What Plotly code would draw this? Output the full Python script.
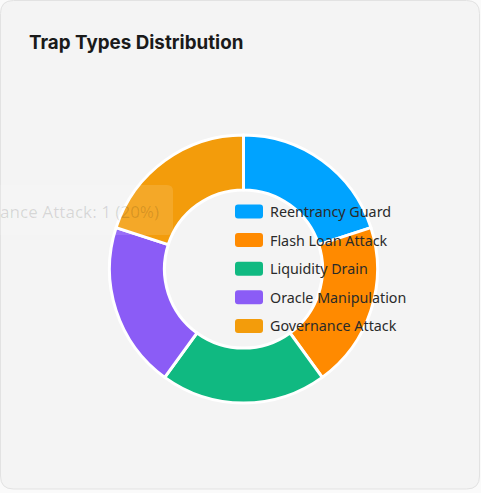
import plotly.graph_objects as go

# ---- data ----
labels = ["Reentrancy Guard", "Flash Loan Attack", "Liquidity Drain",
          "Oracle Manipulation", "Governance Attack"]
values = [1, 1, 1, 1, 1]
colors = ["#00A3FF", "#FF8A00", "#10B981", "#8B5CF6", "#F39C0B"]
title_text = "Trap Types Distribution"
tooltip_index = 4

W, H = 481, 493
CARD_BG = "#F4F4F4"
PAGE_BG = "#FAFAFA"


def px(x):
    return x / W


def py(y):
    return 1 - y / H


def rounded_rect(x0, y0, x1, y1, r):
    # pixel coords (top-left origin) -> paper path
    return (f"M{px(x0 + r)},{py(y0)} L{px(x1 - r)},{py(y0)} "
            f"Q{px(x1)},{py(y0)} {px(x1)},{py(y0 + r)} "
            f"L{px(x1)},{py(y1 - r)} Q{px(x1)},{py(y1)} {px(x1 - r)},{py(y1)} "
            f"L{px(x0 + r)},{py(y1)} Q{px(x0)},{py(y1)} {px(x0)},{py(y1 - r)} "
            f"L{px(x0)},{py(y0 + r)} Q{px(x0)},{py(y0)} {px(x0 + r)},{py(y0)} Z")


cx, cy, R = 243.5, 269, 134

fig = go.Figure()
fig.add_trace(go.Pie(
    labels=labels,
    values=values,
    hole=0.59,
    sort=False,
    direction="clockwise",
    rotation=0,
    textinfo="none",
    hoverinfo="label+value+percent",
    marker=dict(colors=colors, line=dict(color="#FFFFFF", width=3)),
    domain=dict(x=[px(cx - R), px(cx + R)], y=[py(cy + R), py(cy - R)]),
    showlegend=False,
))

shapes = [dict(
    type="path", xref="paper", yref="paper", layer="below",
    path=rounded_rect(0.5, 0.5, 479.5, 489, 13),
    fillcolor=CARD_BG, line=dict(color="#E2E2E2", width=1),
)]
annotations = [dict(
    text=f"<b>{title_text}</b>", xref="paper", yref="paper",
    x=px(26.5), y=py(43), xanchor="left", yanchor="middle", showarrow=False,
    font=dict(family="Inter", size=18.8, color="#1A1A1A"),
)]

# custom legend
lx, ly0, dy = 235, 211.5, 28.6
bw, bh = 28, 14
for i, (lab, col) in enumerate(zip(labels, colors)):
    yc = ly0 + i * dy
    shapes.append(dict(
        type="path", xref="paper", yref="paper", layer="above",
        path=rounded_rect(lx, yc - bh / 2, lx + bw, yc + bh / 2, 3),
        fillcolor=col, line=dict(width=0),
    ))
    annotations.append(dict(
        text=lab, xref="paper", yref="paper",
        x=px(lx + bw + 5), y=py(yc), xanchor="left", yanchor="middle",
        showarrow=False,
        font=dict(family="Noto Sans", size=14.3, color="#2A2A2A"),
    ))

# fading tooltip
shapes.append(dict(
    type="path", xref="paper", yref="paper", layer="above",
    path=rounded_rect(-20, 185, 173, 235, 6),
    fillcolor="rgba(255,255,255,0.12)", line=dict(width=0),
))
annotations.append(dict(
    text=f"{labels[tooltip_index]}: {values[tooltip_index]} "
         f"({round(100 * values[tooltip_index] / sum(values))}%)",
    xref="paper", yref="paper", x=px(161), y=py(211), xanchor="right",
    yanchor="middle", showarrow=False,
    font=dict(family="Noto Sans", size=17, color="rgba(0,0,0,0.13)"),
))

fig.update_layout(
    width=W, height=H,
    margin=dict(l=0, r=0, t=0, b=0),
    paper_bgcolor=PAGE_BG, plot_bgcolor=PAGE_BG,
    shapes=shapes, annotations=annotations,
)

fig.write_html("out.html", config={"displayModeBar": False})
